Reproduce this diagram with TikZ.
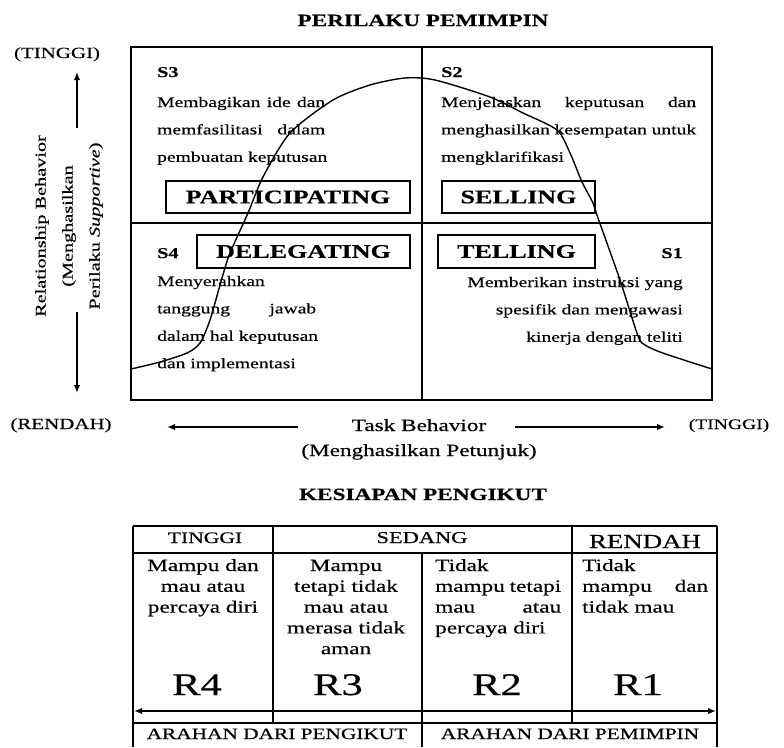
\documentclass[tikz,border=0pt]{standalone}
\usepackage{fontspec}
\setmainfont{Liberation Serif}[FakeStretch=1.35, FakeBold=0.4]
\usetikzlibrary{arrows.meta}
\hbadness=10000
\hfuzz=\maxdimen
\hyphenpenalty=10000

% size helper: #1 font size, #2 baseline skip
\newcommand\fsz[2]{\fontsize{#1}{#2}\selectfont}
% a line spread to the full width of its box
\newcommand\jl[1]{\makebox[\linewidth][s]{#1}}

\tikzset{
  frameline/.style={line width=1.8pt},
  tableline/.style={line width=1.7pt},
  curveline/.style={line width=1.4pt},
  axisarrow/.style={line width=1.6pt, -{Latex[length=8pt,width=6.5pt]}},
  txt/.style={inner sep=0pt, anchor=base},
  txtw/.style={inner sep=0pt, anchor=base west},
  txte/.style={inner sep=0pt, anchor=base east},
  stylebox/.style={draw, line width=1.6pt, inner sep=0pt,
    font=\bfseries\fsz{19.3}{21}},
  body/.style={font=\fsz{14.5}{27.4}},
  slabel/.style={font=\bfseries\fsz{15}{17}},
  cell/.style={font=\fsz{17.2}{20.8}},
  rlabel/.style={txt, font=\fsz{31.5}{33}},
}

\begin{document}
\begin{tikzpicture}[x=1pt,y=-1pt]
\useasboundingbox (0,0) rectangle (784,747);
\fill[white] (0,0) rectangle (784,747);

% ---------- leadership behaviour grid ----------
\node[txt, font=\bfseries\fsz{17.2}{19}] (title) at (423,26) {PERILAKU PEMIMPIN};

\draw[frameline] (131,47) rectangle (712,400);
\draw[frameline] (422,47) -- (422,400);
\draw[frameline] (131,223) -- (712,223);

% S3 quadrant
\node[txtw, slabel] (s3) at (157,77) {S3};
\node[txtw, body] (s3text) at (157,107)
  {\parbox[t]{168pt}{\jl{Membagikan ide dan}\\ \jl{memfasilitasi dalam}\\ \mbox{pembuatan keputusan}}};
\node[stylebox, minimum width=244pt, minimum height=32pt] (participating) at (288,197) {PARTICIPATING};

% S2 quadrant
\node[txtw, slabel] (s2) at (441,77) {S2};
\node[txtw, body] (s2text) at (441,107)
  {\parbox[t]{255pt}{\jl{Menjelaskan keputusan dan}\\ \jl{menghasilkan kesempatan untuk}\\ \mbox{mengklarifikasi}}};
\node[stylebox, minimum width=153pt, minimum height=32pt] (selling) at (518.5,197) {SELLING};

% S4 quadrant
\node[txtw, slabel] (s4) at (157,258) {S4};
\node[stylebox, minimum width=213pt, minimum height=33pt] (delegating) at (303.5,251.5) {DELEGATING};
\node[txtw, body] (s4text) at (157,286)
  {\parbox[t]{159pt}{\mbox{Menyerahkan}\\ \jl{tanggung jawab}\\ \mbox{dalam hal keputusan}\\ \mbox{dan implementasi}}};

% S1 quadrant
\node[stylebox, minimum width=157pt, minimum height=33pt] (telling) at (516.5,251.5) {TELLING};
\node[txte, slabel] (s1) at (683,258) {S1};
\node[txte, body] (s1text) at (683,287)
  {\parbox[t]{220pt}{\raggedleft \mbox{Memberikan instruksi yang}\\ \mbox{spesifik dan mengawasi}\\ \mbox{kinerja dengan teliti}}};

% bell-shaped style curve
\draw[curveline] plot[smooth, tension=0.45] coordinates {
  (131,369) (160,362) (187,353) (200,343) (210,320) (222,278) (230,253)
  (248,213) (263,177) (290,133) (333,100) (370,85) (405,78) (435,80)
  (490,97) (523,113) (557,130) (570,153) (582,182) (593,203) (598,218)
  (620,280) (638,336) (645,345) (660,352) (690,362) (712,369)};

% vertical axis
\node[txt, font=\fsz{15.5}{17}] (vhigh) at (57,58) {(TINGGI)};
\coordinate (upTail) at (77,128);
\coordinate (upTip) at (77,72);
\draw[axisarrow] (upTail) -- (upTip);
\node[rotate=90, inner sep=0pt, align=center, font=\fsz{15}{27}] (vlabel) at (69,226)
  {Relationship Behavior\\ (Menghasilkan\\ Perilaku \textit{Supportive})};
\coordinate (downTail) at (77,312);
\coordinate (downTip) at (77,393);
\draw[axisarrow] (downTail) -- (downTip);

% horizontal axis
\node[txt, font=\fsz{15.5}{17}] (hlow) at (61,429) {(RENDAH)};
\node[txt, font=\fsz{14.5}{17}] (hhigh) at (729,429) {(TINGGI)};
\node[txt, font=\fsz{17.2}{19}] (task) at (419,431) {Task Behavior};
\node[txt, font=\fsz{17.2}{19}] (taskb) at (419,456) {(Menghasilkan Petunjuk)};
\coordinate (leftTail) at (298,427);
\coordinate (leftTip) at (167,427);
\draw[axisarrow] (leftTail) -- (leftTip);
\coordinate (rightTail) at (515,427);
\coordinate (rightTip) at (665,427);
\draw[axisarrow] (rightTail) -- (rightTip);

% ---------- follower readiness table ----------
\node[txt, font=\bfseries\fsz{17.2}{19}] (readiness) at (423,500) {KESIAPAN PENGIKUT};

\draw[tableline] (133,526) -- (717,526);
\draw[tableline] (133,553) -- (717,553);
\draw[tableline] (133,723) -- (717,723);
\draw[tableline] (133,526) -- (133,747);
\draw[tableline] (717,526) -- (717,747);
\draw[tableline] (273,526) -- (273,723);
\draw[tableline] (572,526) -- (572,723);
\draw[tableline] (422,553) -- (422,747);

\node[txt, font=\fsz{16}{18}] (hdhigh) at (205,543) {TINGGI};
\node[txt, font=\fsz{16.6}{18}] (hdmid) at (422,543) {SEDANG};
\node[txt, font=\fsz{19.9}{21}] (hdlow) at (645,548) {RENDAH};

\node[txt, cell] (c4) at (203,571)
  {\parbox[t]{136pt}{\centering Mampu dan\\ mau atau\\ percaya diri}};
\node[txt, cell] (c3) at (346,571)
  {\parbox[t]{146pt}{\centering Mampu\\ tetapi tidak\\ mau atau\\ merasa tidak\\ aman}};
\node[txtw, cell] (c2) at (435,571)
  {\parbox[t]{126pt}{\mbox{Tidak}\\ \jl{mampu tetapi}\\ \jl{mau atau}\\ \mbox{percaya diri}}};
\node[txtw, cell] (c1) at (582,571)
  {\parbox[t]{126pt}{\mbox{Tidak}\\ \jl{mampu dan}\\ \mbox{tidak mau}}};

\node[rlabel] (r4) at (197,695) {R4};
\node[rlabel] (r3) at (338,695) {R3};
\node[rlabel] (r2) at (497,695) {R2};
\node[rlabel] (r1) at (638,695) {R1};

\coordinate (spanL) at (134,711);
\coordinate (spanR) at (716,711);
\draw[tableline, {Latex[length=8pt,width=6.5pt]}-{Latex[length=8pt,width=6.5pt]}] (spanL) -- (spanR);

\node[txt, font=\fsz{15.8}{17}] (follower) at (277,739) {ARAHAN DARI PENGIKUT};
\node[txt, font=\fsz{15.8}{17}] (leader) at (570,739) {ARAHAN DARI PEMIMPIN};
\end{tikzpicture}
\end{document}
